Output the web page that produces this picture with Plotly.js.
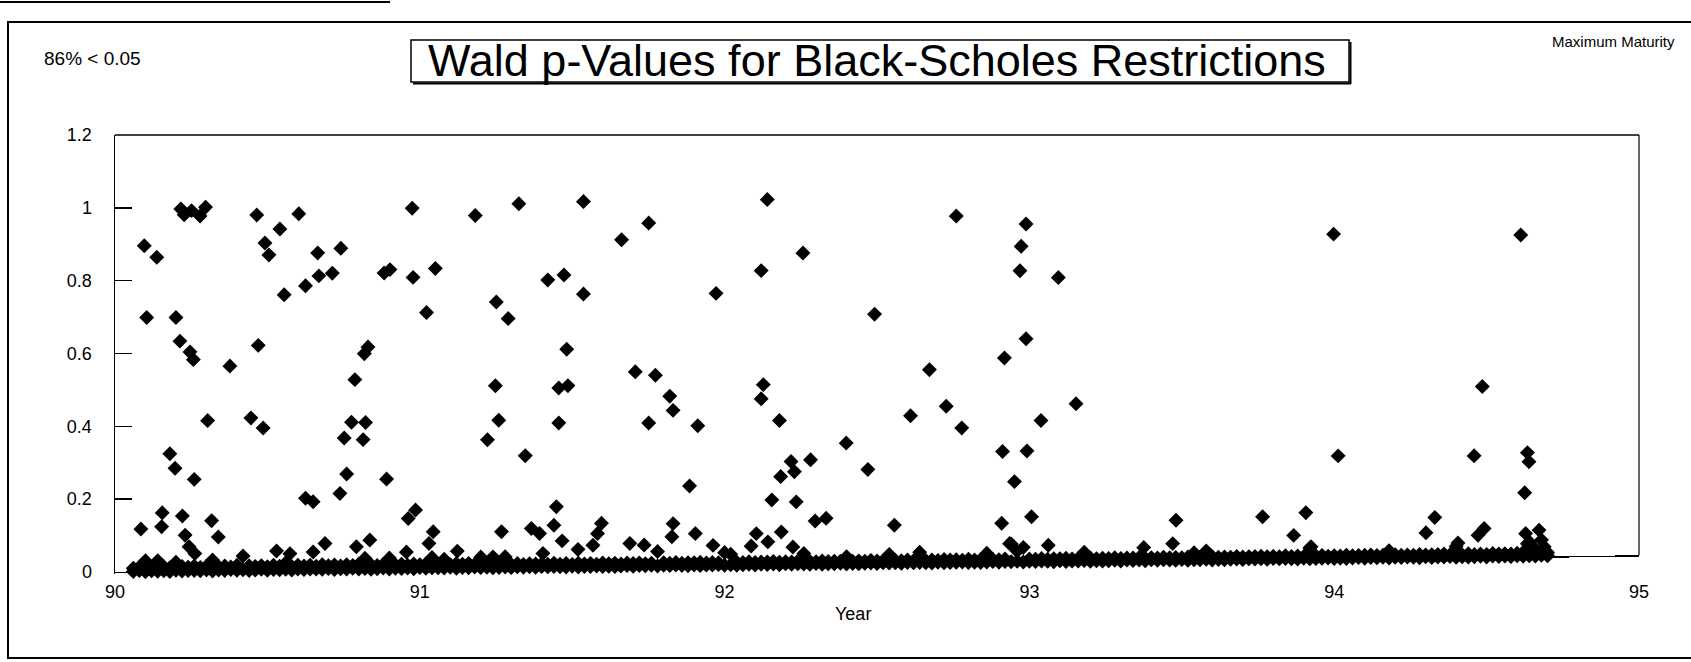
<!DOCTYPE html>
<html>
<head>
<meta charset="utf-8">
<script src="https://cdn.plot.ly/plotly-3.0.1.min.js"></script>
<style>
  html, body { margin: 0; padding: 0; background: #ffffff; }
  #chart { width: 1691px; height: 662px; }
</style>
</head>
<body>
<div id="chart"></div>
<script>
// ---------------- DATA ----------------
const chartTitle = 'Wald p-Values for Black-Scholes Restrictions';
const noteLeft = '86% < 0.05';
const noteRight = 'Maximum Maturity';
const xAxisTitle = 'Year';

const xTickVals = [90, 91, 92, 93, 94, 95];
const xTickText = ['90', '91', '92', '93', '94', '95'];
const yTickVals = [0, 0.2, 0.4, 0.6, 0.8, 1, 1.2];
const yTickText = ['0', '0.2', '0.4', '0.6', '0.8', '1', '1.2'];

// individually visible p-values (year, p-value)
const scatterYear = [
  90.216, 90.227, 90.251, 90.279, 90.297, 90.465, 90.603, 90.096, 90.137,
  90.541, 90.492, 90.505, 90.665, 90.741, 90.669, 90.713, 90.625, 90.555,
  90.104, 90.200, 90.213, 90.246, 90.257, 90.377, 90.470, 90.787,
  90.304, 90.446, 90.486, 90.776, 90.752,
  90.180, 90.197, 90.260, 90.760, 90.738, 90.625, 90.650,
  90.085, 90.155, 90.153, 90.221, 90.230, 90.317, 90.339,
  90.243, 90.262, 90.530, 90.574, 90.689, 90.650, 90.792,
  90.975, 91.182, 91.325, 91.537, 91.662,
  90.883, 90.902, 90.978, 91.051, 91.022,
  91.251, 91.290, 91.420, 91.473, 91.537,
  90.830, 90.818, 90.822, 90.814,
  91.248, 91.259, 91.222, 91.346, 91.482, 91.456, 91.486, 91.456,
  90.891, 90.986, 90.962, 91.044, 91.030, 90.836, 90.956, 91.123,
  91.268, 91.366, 91.393, 91.448, 91.440, 91.467, 91.596, 91.583, 91.568, 91.519, 91.404,
  91.751, 92.140, 92.120, 92.257, 91.972, 92.492,
  91.707, 91.773, 91.820, 91.831, 91.751, 91.912,
  92.127, 92.120, 92.180, 91.885, 92.399, 92.470, 92.282,
  92.218, 92.229, 92.184, 92.155, 92.235, 92.297, 92.333,
  91.831, 91.827, 91.904, 91.962, 91.736, 91.689,
  92.104, 92.087, 92.142, 92.186, 92.224,
  92.760, 92.989, 92.973, 92.969, 93.095, 92.989, 92.918, 92.672,
  92.610, 92.727, 92.778, 93.153, 93.038, 92.912, 92.992, 92.951,
  92.557, 92.909, 93.007, 93.062, 92.935,
  93.998, 94.013, 93.481, 93.470, 93.765, 93.907, 93.867, 93.375, 93.924,
  94.612, 94.486, 94.459, 94.634, 94.639, 94.625, 94.330, 94.301,
  94.492, 94.472, 94.406, 94.672, 94.628, 94.634, 94.689
];
const scatterP = [
  0.995, 0.979, 0.990, 0.975, 0.999, 0.976, 0.978, 0.895, 0.863,
  0.937, 0.899, 0.866, 0.870, 0.882, 0.807, 0.814, 0.780, 0.756,
  0.698, 0.697, 0.632, 0.602, 0.581, 0.562, 0.618, 0.521,
  0.413, 0.419, 0.391, 0.404, 0.361,
  0.323, 0.283, 0.252, 0.262, 0.209, 0.197, 0.187,
  0.117, 0.161, 0.123, 0.152, 0.099, 0.138, 0.093,
  0.067, 0.048, 0.053, 0.045, 0.072, 0.049, 0.062,
  0.990, 0.968, 0.999, 1.003, 0.897,
  0.813, 0.822, 0.800, 0.824, 0.703,
  0.730, 0.684, 0.789, 0.802, 0.749,
  0.610, 0.592, 0.403, 0.356,
  0.500, 0.405, 0.352, 0.307, 0.598, 0.492, 0.498, 0.396,
  0.247, 0.161, 0.138, 0.101, 0.069, 0.080, 0.046, 0.047,
  0.099, 0.107, 0.093, 0.166, 0.115, 0.072, 0.119, 0.091, 0.059, 0.048, 0.038,
  0.942, 1.003, 0.808, 0.855, 0.747, 0.685,
  0.534, 0.524, 0.466, 0.427, 0.393, 0.384,
  0.495, 0.456, 0.396, 0.219, 0.332, 0.259, 0.287,
  0.283, 0.255, 0.242, 0.178, 0.172, 0.119, 0.126,
  0.116, 0.080, 0.088, 0.055, 0.058, 0.063,
  0.086, 0.052, 0.063, 0.090, 0.048,
  0.952, 0.928, 0.867, 0.800, 0.780, 0.613, 0.561, 0.531,
  0.405, 0.430, 0.370, 0.433, 0.388, 0.304, 0.305, 0.221,
  0.105, 0.107, 0.124, 0.045, 0.051,
  0.891, 0.282, 0.110, 0.046, 0.117, 0.127, 0.065, 0.036, 0.033,
  0.883, 0.468, 0.278, 0.285, 0.260, 0.175, 0.110, 0.068,
  0.078, 0.060, 0.039, 0.072, 0.063, 0.035, 0.026
];

// the dense band of p-values just above zero, read along the band:
// one reading of its upper edge (bandTopP) and one of its lower edge (bandLowP)
const bandYear = [
  90.06,90.08,90.10,90.12,90.14,90.16,90.18,90.20,90.22,90.24,
  90.26,90.28,90.30,90.32,90.34,90.36,90.38,90.40,90.42,90.44,
  90.46,90.48,90.50,90.52,90.54,90.56,90.58,90.60,90.62,90.64,
  90.66,90.68,90.70,90.72,90.74,90.76,90.78,90.80,90.82,90.84,
  90.86,90.88,90.90,90.92,90.94,90.96,90.98,91.00,91.02,91.04,
  91.06,91.08,91.10,91.12,91.14,91.16,91.18,91.20,91.22,91.24,
  91.26,91.28,91.30,91.32,91.34,91.36,91.38,91.40,91.42,91.44,
  91.46,91.48,91.50,91.52,91.54,91.56,91.58,91.60,91.62,91.64,
  91.66,91.68,91.70,91.72,91.74,91.76,91.78,91.80,91.82,91.84,
  91.86,91.88,91.90,91.92,91.94,91.96,91.98,92.00,92.02,92.04,
  92.06,92.08,92.10,92.12,92.14,92.16,92.18,92.20,92.22,92.24,
  92.26,92.28,92.30,92.32,92.34,92.36,92.38,92.40,92.42,92.44,
  92.46,92.48,92.50,92.52,92.54,92.56,92.58,92.60,92.62,92.64,
  92.66,92.68,92.70,92.72,92.74,92.76,92.78,92.80,92.82,92.84,
  92.86,92.88,92.90,92.92,92.94,92.96,92.98,93.00,93.02,93.04,
  93.06,93.08,93.10,93.12,93.14,93.16,93.18,93.20,93.22,93.24,
  93.26,93.28,93.30,93.32,93.34,93.36,93.38,93.40,93.42,93.44,
  93.46,93.48,93.50,93.52,93.54,93.56,93.58,93.60,93.62,93.64,
  93.66,93.68,93.70,93.72,93.74,93.76,93.78,93.80,93.82,93.84,
  93.86,93.88,93.90,93.92,93.94,93.96,93.98,94.00,94.02,94.04,
  94.06,94.08,94.10,94.12,94.14,94.16,94.18,94.20,94.22,94.24,
  94.26,94.28,94.30,94.32,94.34,94.36,94.38,94.40,94.42,94.44,
  94.46,94.48,94.50,94.52,94.54,94.56,94.58,94.60,94.62,94.64,
  94.66,94.68,94.70
];
const bandTopP = [
  0.010,0.013,0.030,0.011,0.030,0.013,0.010,0.025,0.013,0.011,
  0.014,0.010,0.013,0.030,0.011,0.013,0.010,0.015,0.040,0.013,
  0.011,0.013,0.010,0.014,0.011,0.020,0.010,0.013,0.011,0.013,
  0.010,0.014,0.011,0.013,0.010,0.013,0.011,0.015,0.030,0.012,
  0.010,0.013,0.030,0.011,0.013,0.010,0.013,0.011,0.013,0.030,
  0.011,0.025,0.010,0.013,0.011,0.013,0.010,0.030,0.011,0.030,
  0.010,0.030,0.009,0.011,0.008,0.010,0.009,0.010,0.008,0.011,
  0.008,0.010,0.007,0.010,0.008,0.009,0.007,0.010,0.008,0.009,
  0.007,0.009,0.008,0.009,0.007,0.008,0.040,0.009,0.007,0.009,
  0.007,0.008,0.008,0.009,0.007,0.008,0.007,0.035,0.030,0.008,
  0.007,0.009,0.007,0.008,0.008,0.009,0.007,0.008,0.007,0.009,
  0.030,0.008,0.007,0.009,0.007,0.008,0.008,0.020,0.007,0.008,
  0.007,0.009,0.007,0.008,0.025,0.008,0.007,0.009,0.007,0.030,
  0.007,0.008,0.007,0.009,0.008,0.008,0.007,0.009,0.007,0.008,
  0.025,0.008,0.007,0.009,0.050,0.030,0.040,0.008,0.007,0.009,
  0.007,0.008,0.008,0.009,0.007,0.008,0.025,0.009,0.007,0.008,
  0.007,0.009,0.007,0.008,0.008,0.009,0.007,0.008,0.007,0.009,
  0.007,0.008,0.007,0.009,0.020,0.008,0.025,0.009,0.007,0.008,
  0.007,0.009,0.007,0.008,0.008,0.009,0.007,0.008,0.007,0.009,
  0.007,0.008,0.007,0.030,0.008,0.009,0.007,0.008,0.007,0.009,
  0.007,0.008,0.008,0.009,0.007,0.008,0.020,0.009,0.007,0.008,
  0.007,0.009,0.007,0.008,0.008,0.009,0.007,0.030,0.007,0.009,
  0.007,0.008,0.007,0.009,0.008,0.008,0.007,0.009,0.012,0.040,
  0.020,0.045,0.010
];
const bandLowP = [
  0.001,0.003,0.000,0.002,0.001,0.002,0.000,0.003,0.001,0.002,
  0.002,0.001,0.003,0.000,0.002,0.001,0.003,0.001,0.002,0.000,
  0.001,0.003,0.000,0.002,0.001,0.002,0.000,0.003,0.001,0.002,
  0.002,0.001,0.003,0.000,0.002,0.001,0.003,0.001,0.002,0.000,
  0.001,0.003,0.000,0.002,0.001,0.002,0.000,0.003,0.001,0.002,
  0.002,0.001,0.003,0.000,0.002,0.001,0.003,0.001,0.002,0.000,
  0.001,0.002,0.000,0.002,0.001,0.002,0.000,0.002,0.001,0.002,
  0.001,0.000,0.002,0.000,0.001,0.001,0.002,0.000,0.001,0.000,
  0.001,0.002,0.000,0.002,0.001,0.002,0.000,0.002,0.001,0.002,
  0.001,0.000,0.002,0.000,0.001,0.001,0.002,0.000,0.001,0.000,
  0.001,0.002,0.000,0.002,0.001,0.002,0.000,0.002,0.001,0.002,
  0.001,0.000,0.002,0.000,0.001,0.001,0.002,0.000,0.001,0.000,
  0.001,0.002,0.000,0.002,0.001,0.002,0.000,0.002,0.001,0.002,
  0.001,0.000,0.002,0.000,0.001,0.001,0.002,0.000,0.001,0.000,
  0.001,0.002,0.000,0.002,0.001,0.002,0.000,0.002,0.001,0.002,
  0.001,0.000,0.002,0.000,0.001,0.001,0.002,0.000,0.001,0.000,
  0.001,0.002,0.000,0.002,0.001,0.002,0.000,0.002,0.001,0.002,
  0.001,0.000,0.002,0.000,0.001,0.001,0.002,0.000,0.001,0.000,
  0.001,0.002,0.000,0.002,0.001,0.002,0.000,0.002,0.001,0.002,
  0.001,0.000,0.002,0.000,0.001,0.001,0.002,0.000,0.001,0.000,
  0.001,0.002,0.000,0.002,0.001,0.002,0.000,0.002,0.001,0.002,
  0.001,0.000,0.002,0.000,0.001,0.001,0.002,0.000,0.001,0.000,
  0.001,0.002,0.000,0.002,0.001,0.002,0.000,0.002,0.001,0.002,
  0.001,0.003,0.001
];

// ---------------- LAYOUT GEOMETRY ----------------
const W = 1691, H = 662;
const M = { l: 115, r: 52, t: 135, b: 90 };
const PW = W - M.l - M.r, PH = H - M.t - M.b;
const px = v => (v - M.l) / PW;          // pixel x -> paper x
const py = v => (H - M.b - v) / PH;      // pixel y -> paper y
const FONT = 'Liberation Sans, Arial, Helvetica, sans-serif';
const SCAN_SLOPE = 0.011;                // the scanned page is slightly sheared near the x axis

const marker = { symbol: 'diamond', size: 11.5, color: '#000000', line: { width: 0 } };

const traces = [
  { type: 'scatter', mode: 'markers', x: bandYear, y: bandLowP, marker: marker, cliponaxis: false, hoverinfo: 'skip' },
  { type: 'scatter', mode: 'markers', x: bandYear, y: bandTopP, marker: marker, cliponaxis: false, hoverinfo: 'skip' },
  { type: 'scatter', mode: 'markers', x: scatterYear, y: scatterP, marker: marker, cliponaxis: false, hoverinfo: 'skip' }
];

const layout = {
  width: W, height: H,
  margin: { l: M.l, r: M.r, t: M.t, b: M.b, pad: 0 },
  paper_bgcolor: '#ffffff', plot_bgcolor: 'rgba(0,0,0,0)',
  font: { family: FONT, color: '#000000', size: 18 },
  showlegend: false,
  xaxis: {
    range: [90, 95], tickmode: 'array', tickvals: xTickVals, ticktext: xTickText,
    showgrid: false, zeroline: false, showline: true, mirror: false,
    linecolor: '#000000', linewidth: 1.5, ticks: '',
    tickfont: { family: FONT, size: 18, color: '#000000' },
    ticklabelstandoff: 3
  },
  yaxis: {
    range: [0, 1.2], tickmode: 'array', tickvals: yTickVals, ticktext: yTickText,
    showgrid: false, zeroline: false, showline: true, mirror: false,
    linecolor: '#000000', linewidth: 1.5,
    ticks: 'inside', ticklen: 17, tickwidth: 1.5, tickcolor: '#000000',
    tickfont: { family: FONT, size: 18, color: '#000000' },
    ticklabelstandoff: 18
  },
  shapes: [
    // top and right edges of the plot area
    { type: 'line', xref: 'paper', yref: 'paper', x0: 0, x1: 1, y0: 1, y1: 1,
      line: { color: '#000000', width: 1.5 } },
    { type: 'line', xref: 'paper', yref: 'paper', x0: 1, x1: 1, y0: 1, y1: py(H - M.b - SCAN_SLOPE * PW),
      line: { color: '#000000', width: 1.2 } },
    // outer chart frame
    { type: 'rect', xref: 'paper', yref: 'paper', x0: px(8), x1: px(1720), y0: py(658), y1: py(22),
      line: { color: '#000000', width: 2 } },
    // title box with its shadow edges
    { type: 'rect', xref: 'paper', yref: 'paper', x0: px(411), x1: px(1349), y0: py(82), y1: py(40),
      line: { color: '#000000', width: 1.5 } },
    { type: 'line', xref: 'paper', yref: 'paper', x0: px(413), x1: px(1351), y0: py(83.5), y1: py(83.5),
      line: { color: '#000000', width: 2 } },
    { type: 'line', xref: 'paper', yref: 'paper', x0: px(1350.5), x1: px(1350.5), y0: py(42), y1: py(84),
      line: { color: '#000000', width: 2 } },
    // edge of the frame above (cut by the page)
    { type: 'line', xref: 'paper', yref: 'paper', x0: px(0), x1: px(390), y0: py(2), y1: py(2),
      line: { color: '#000000', width: 2 } }
  ],
  annotations: [
    { text: chartTitle, xref: 'paper', yref: 'paper', x: px(877), y: py(60),
      xanchor: 'center', yanchor: 'middle', showarrow: false,
      font: { family: FONT, size: 45, color: '#000000' } },
    { text: noteLeft, xref: 'paper', yref: 'paper', x: px(42), y: py(59),
      xanchor: 'left', yanchor: 'middle', showarrow: false,
      font: { family: FONT, size: 19, color: '#000000' } },
    { text: noteRight, xref: 'paper', yref: 'paper', x: px(1677), y: py(41),
      xanchor: 'right', yanchor: 'middle', showarrow: false,
      font: { family: FONT, size: 15, color: '#000000' } },
    { text: xAxisTitle, xref: 'paper', yref: 'paper', x: px(853), y: py(614),
      xanchor: 'center', yanchor: 'middle', showarrow: false,
      font: { family: FONT, size: 18, color: '#000000' } }
  ]
};

// reproduce the slight shear of the scanned page on the plotted marks and the x axis line
function applyScanShear(gd) {
  const k = SCAN_SLOPE;
  gd.querySelectorAll('.cartesianlayer .scatterlayer').forEach(function (el) {
    el.setAttribute('transform', 'matrix(1,' + (-k) + ',0,1,0,0)');   // local coords start at the plot's left edge
  });
  gd.querySelectorAll('.cartesianlayer .xlines-above').forEach(function (el) {
    el.setAttribute('transform', 'matrix(1,' + (-k) + ',0,1,0,' + (k * M.l) + ')');
  });
}

const gd = document.getElementById('chart');
Plotly.newPlot(gd, traces, layout, { displayModeBar: false, responsive: false, staticPlot: true })
  .then(function () {
    applyScanShear(gd);
    gd.on('plotly_afterplot', function () { applyScanShear(gd); });
  });
</script>
</body>
</html>
